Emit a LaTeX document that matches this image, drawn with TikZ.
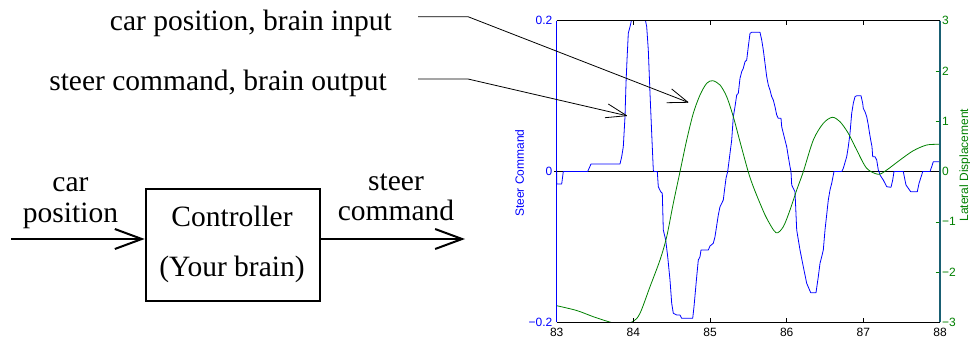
\documentclass[tikz,border=0pt]{standalone}
\usepackage{fontspec}
\setmainfont{Liberation Serif}
\newfontfamily\plotfont{Liberation Sans}
\usetikzlibrary{arrows.meta}
\definecolor{mblue}{rgb}{0,0,1}
\definecolor{mgreen}{rgb}{0,0.5,0}
\definecolor{mteal}{RGB}{25,95,115}
\begin{document}
\begin{tikzpicture}[x=1pt,y=-1pt,
  big/.style={font=\fontsize{29.5}{35}\selectfont, inner sep=0pt},
  ticklab/.style={font=\plotfont\fontsize{12}{14}\selectfont, inner sep=0pt},
  flow/.style={line width=2pt, -{Straight Barb[length=27pt,width=20pt]}},
  leader/.style={line width=0.8pt, black},
  curve/.style={line width=0.8pt, line join=round}]
\useasboundingbox (0,0) rectangle (970,341);

% ---------- annotation labels ----------
\node[big, anchor=base east] (lab1) at (392,30.7) {car position, brain input};
\node[big, anchor=base east] (lab2) at (387,90) {steer command, brain output};

% ---------- block diagram ----------
\node[draw, line width=2pt, minimum width=174.3pt, minimum height=111.4pt, inner sep=0pt] (box) at (232.85,245) {};
\node[big, anchor=base] (ctl1) at (232,226.7) {Controller};
\node[big, anchor=base] (ctl2) at (232,276) {(Your brain)};
\coordinate (in) at (11,239);
\coordinate (out) at (465,239);
\draw[flow] (in) -- (in -| box.west);
\draw[flow] (box.east |- out) -- (out);
\node[big, anchor=base] (inl1) at (70.5,191.7) {car};
\node[big, anchor=base] (inl2) at (70.5,222.7) {position};
\node[big, anchor=base] (outl1) at (396,190) {steer};
\node[big, anchor=base] (outl2) at (396,220.7) {command};

% ---------- plot ----------
\coordinate (pTL) at (556.7,20.7);
\coordinate (pBR) at (940,322.3);
\draw[line width=0.8pt] (554,171.5) -- (940,171.5);
\begin{scope}
\clip (pTL) rectangle (pBR);
\draw[curve, mblue] plot coordinates {
(556.7,171.5) (556.7,184) (561.7,184) (563.3,171.5) (587.7,171.5) (591,164) (620,164)
(621.7,156.7) (623.3,146.7) (625,116.7) (626,83.3) (627,60) (628.3,33.3) (630,26.7)
(632,18) (645,18) (646.7,26.7) (648.3,50) (650,93.3) (651.7,133.3) (653.3,170) (654,171.5)
(657.3,171.5) (658.3,186.7) (660.7,191.7) (662.3,193.3) (663.3,230) (665.7,240)
(667.7,256.7) (670,280) (671.7,303.3) (673.3,313.3) (676.7,315) (680,315) (681.7,318.3)
(692.7,318.3) (694,306.7) (696.7,276.7) (698.3,260) (700,256.7) (701,250) (708.3,250)
(710,246) (713.3,243.3) (715,236.7) (718.3,215) (720,206.7) (723.3,200) (724.3,191.7)
(726,178.3) (727.7,171.5) (730,153.3) (731.7,140) (733.3,116.7) (735,106.7) (736.7,95)
(738.3,93.3) (740,78.3) (741.7,71.7) (743.3,68.3) (745,61.7) (746.7,60) (748.3,46.7)
(750,33.3) (751.7,32.3) (760,32.3) (761.7,40) (763.3,50) (765,63.3) (766.7,76.7)
(768.3,85) (770,90) (771.7,96.7) (773.3,100) (775,106.7) (776.7,115) (778.3,118.3)
(781,118.3) (781.7,126.7) (783.3,133.3) (785,140) (786.7,146.7) (788.3,156.7)
(790,166.7) (791,171.5) (791.7,185) (793.3,188.3) (795,191.7) (796.7,230) (800,250)
(803.3,266.7) (806.7,283.3) (810.7,292.7) (816,292.7) (818.3,276.7) (820,263.3)
(821.7,256.7) (823.3,250) (825,230) (828.3,200) (830,190) (831.7,183.3) (834,171.5)
(841.7,171.5) (843.3,168.3) (846.7,156.7) (848.3,146.7) (850,133.3) (851.7,113.3)
(853.3,103.3) (855,96.7) (856.7,95.7) (861,95.7) (862.7,103.3) (863.3,108.3) (865,111.7)
(866.7,116.7) (868.3,125) (869.3,131.7) (870.7,140) (872,146.7) (872.7,156.7)
(875,156.7) (876.7,160) (878.3,170) (879,171.5) (880,175) (883.3,180) (886.7,186.7)
(891,187.3) (892.7,180) (894,171.5) (903.3,171.5) (904.3,176.7) (906,185) (908.3,188.3)
(910.7,191.7) (917.3,191.7) (919,183.3) (921.7,175) (922.7,171.5) (930,171.5)
(931.7,166.7) (933.3,161.7) (941,161.7)};
\draw[curve, mgreen] plot[smooth] coordinates {
(556.7,305.7) (576.7,310.5) (593.3,316.7) (608,321.5) (621,324.5) (633,321.5)
(640,313.3) (650,286.7) (660,260) (666.7,236.7) (673.3,203.3) (680,171.7) (686.7,140)
(693.3,113.3) (700,95) (706.7,83.3) (712.7,80.7) (720,85) (726.7,96.7) (733.3,116.7)
(740,141.7) (748.3,172) (753.3,186.7) (760,203.3) (766.7,218.3) (776,232.7)
(783.3,226.7) (790,210) (796.7,190) (803.3,171.7) (813.3,140) (823.3,123.3)
(832.3,117.3) (840,121.7) (848.3,133.3) (856.7,150) (866.7,168.3) (878.3,174.3)
(886.7,170) (900,160) (913.3,150.7) (926.7,145) (939.3,144.3) (945,144.3)};
\end{scope}

% frame and ticks
\draw[line width=0.8pt] (pTL) -- (pTL -| pBR);
\draw[line width=0.8pt] (pTL |- pBR) -- (pBR);
\foreach \xx/\lab in {556.7/83, 633.4/84, 710/85, 786.7/86, 863.3/87, 940/88} {
  \draw[line width=0.6pt] (\xx,20.7) -- (\xx,24.7);
  \draw[line width=0.6pt] (\xx,322.3) -- (\xx,318.3);
  \node[ticklab, anchor=north] (xl\lab) at (\xx,327.5) {\lab};
}
\foreach \yy in {71,121.2,221.8,272} {
  \draw[mgreen, line width=0.6pt] (935.5,\yy) -- (940,\yy);
}
\draw[mblue, line width=1.2pt] (pTL) -- (pTL |- pBR);
\draw[mteal, line width=1.6pt] (pTL -| pBR) -- (pBR);

\node[ticklab, text=mblue, anchor=east] (ylp) at (552.5,20.7) {0.2};
\node[ticklab, text=mblue, anchor=east] (ylz) at (552.5,171.5) {0};
\node[ticklab, text=mblue, anchor=east] (ylm) at (552.5,322.3) {−0.2};
\foreach \yy/\lab/\nm in {20.7/3/p3, 71/2/p2, 121.2/1/p1, 171.5/0/z0, 221.8/−1/m1, 272/−2/m2, 322.3/−3/m3} {
  \node[ticklab, text=mgreen, anchor=west] (yr\nm) at (942,\yy) {\lab};
}
\node[ticklab, text=mblue, rotate=90] (steerlab) at (519.5,173) {Steer Command};
\node[ticklab, text=mgreen, rotate=90] (latlab) at (965,165) {Lateral Displacement};

% ---------- leader arrows ----------
\coordinate (s1) at (418,16.7);
\coordinate (k1) at (468,16.7);
\coordinate (t1) at (688,102.3);
\coordinate (s2) at (418,79);
\coordinate (k2) at (468,79);
\coordinate (t2) at (626.7,115.7);
\draw[leader] (s1) -- (k1) -- (t1);
\draw[leader] (t1) -- ++(-16.3,-13.3);
\draw[leader] (t1) -- ++(-21.3,0.4);
\draw[leader] (s2) -- (k2) -- (t2);
\draw[leader] (t2) -- ++(-18.4,-11.7);
\draw[leader] (t2) -- ++(-21.7,2);
\end{tikzpicture}
\end{document}
